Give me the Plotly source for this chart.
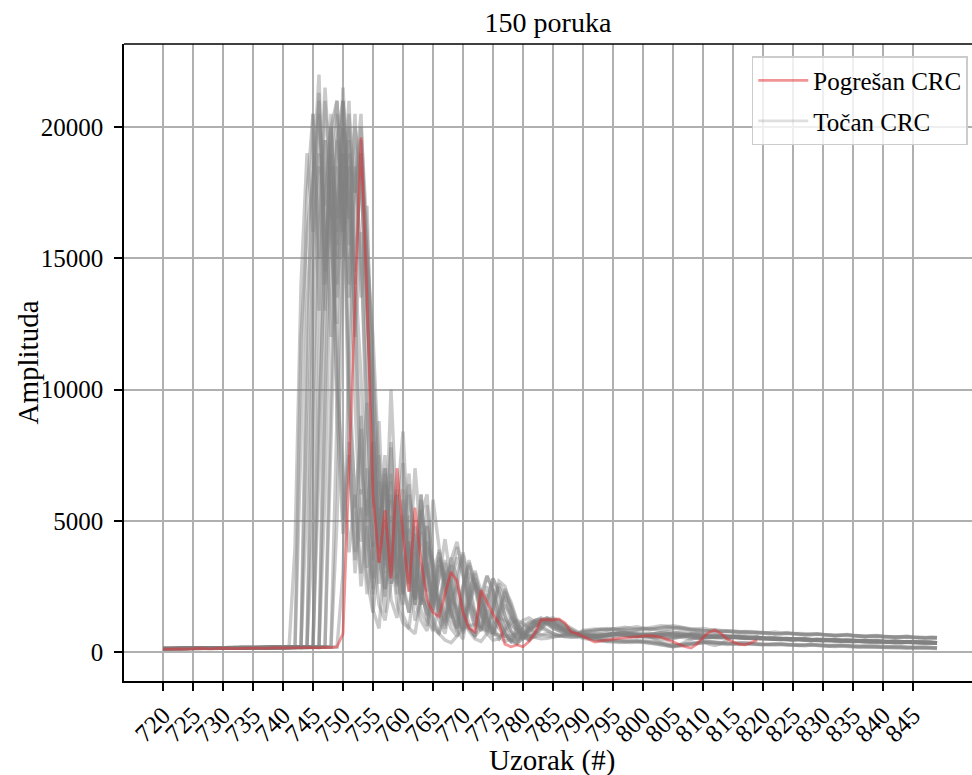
import plotly.graph_objects as go

# ---------------- data ----------------
X_START = 720
x_ticks = list(range(720, 850, 5))
y_ticks = [0, 5000, 10000, 15000, 20000]

# erroneous-CRC message (red), visible from 720 to 819
red_vals = [110,120,130,120,110,130,140,130,120,140,150,140,130,140,150,160,150,140,160,170,160,150,160,170,180,170,160,180,170,200,
            700,7000,13000,19600,13500,6000,3400,5400,2800,7000,
            4500,2300,5500,3500,2000,1500,1350,2200,3050,2700,
            1500,900,760,2360,1900,1450,1100,300,200,270,
            200,400,720,1220,1230,1220,1260,1100,760,700,
            600,500,380,420,460,500,520,540,560,580,
            600,620,600,560,480,380,280,200,150,300,
            550,750,840,700,500,380,300,270,350,450]

# correct-CRC messages (gray), a representative set
g01 = [120,130,140,130,120,140,150,140,130,150,160,150,140,150,160,170,160,150,170,180,170,160,
       4000,14000,19000,16000,21300,15000,18500,9000,4500,7500,
       3000,5500,2200,4200,1800,1200,2600,3000,1400,900,
       700,2100,1800,1300,700,450,350,600,900,1000,
       1050,950,800,700,650,600,620,700,650,600,
       580,640,700,650,600,580,560,600,
       620,640,600,580,620,650,680,640,600,620,660,700,680,640,600,580,620,660,700,720,
       680,650,620,600,580,560,600,620,580,560,540,520,560,540,500,480,520,500,480,460,
       500,480,450,430,470,450,420,400,440,420,400,380,420,400,380,360,400,380,360,350]
g02 = [140,130,120,130,150,140,130,140,160,150,140,150,170,160,150,160,170,180,170,160,170,180,190,
       8000,17500,20500,13000,19500,16000,12000,5000,8000,3500,
       6200,2800,1500,3600,2400,4200,1800,1100,900,2800,
       2200,1500,900,700,1400,2000,1700,1200,800,500,
       400,700,1100,1300,1200,1000,850,700,600,550,
       500,520,560,600,650,700,680,
       650,620,600,640,680,700,660,620,600,640,680,600,480,350,250,200,260,380,480,540,
       560,620,660,640,600,560,540,520,500,520,540,500,480,460,480,500,470,440,420,450,
       470,440,420,400,420,440,410,390,370,400,420,390,370,350,380,400,370,350,330,340]
g03 = [110,120,130,140,130,120,130,150,140,130,150,160,150,140,160,170,160,150,170,160,180,170,160,
       12000,16000,18000,22000,14000,17000,10000,7000,3800,6000,
       2500,4800,1600,900,3800,2900,5000,2400,1500,3300,
       2600,1200,800,1800,2900,3300,2100,1300,900,600,
       1500,2200,1700,1100,700,450,350,500,800,1000,
       1100,1050,900,800,700,620,600,
       520,480,440,420,400,380,360,380,400,420,380,340,300,260,220,200,230,270,310,340,
       360,380,360,340,320,300,280,300,320,300,280,260,270,290,270,250,230,240,260,240,
       220,200,210,230,210,190,180,200,190,170,160,180,170,150,140,160,150,130,120,130]
g04 = [130,140,130,120,140,150,140,130,150,140,160,150,140,160,170,150,160,170,180,160,170,190,180,170,
       6000,15500,19000,17000,20500,13500,18000,11000,5500,8500,
       3200,6800,2600,4800,2000,1300,3400,4000,2000,1200,
       800,2400,2000,1500,900,600,1300,1900,1500,1000,
       700,450,500,800,1100,1200,1100,900,750,650,
       600,580,620,680,720,700,
       680,650,620,600,640,700,740,720,680,640,600,560,520,480,460,500,560,620,680,700,
       660,620,600,580,600,620,580,540,520,500,480,500,520,490,460,440,460,480,450,430,
       410,430,450,420,400,380,400,410,380,360,380,400,370,350,360,380,350,340,360,340]
g05 = [120,110,130,140,120,130,150,140,130,140,160,150,130,150,170,160,150,160,180,170,160,180,190,180,
       10000,20500,15000,21000,17500,12500,19000,8000,3800,9000,
       4500,2200,5500,3300,8000,3000,1800,4200,2800,1600,
       1000,2600,3300,2600,1500,800,500,1800,2600,2100,
       1400,900,600,400,500,900,1200,1300,1150,1000,
       850,700,650,600,580,560,
       760,800,840,880,860,820,860,900,940,960,920,880,900,940,980,1000,960,900,860,880,
       900,860,820,800,780,760,740,760,780,760,740,720,700,720,740,700,680,660,680,700,
       670,650,630,650,670,640,620,600,620,630,600,580,560,580,600,570,550,540,560,550]
g06 = [140,130,140,150,130,140,160,150,140,150,160,170,150,160,170,160,150,170,180,170,160,170,190,180,170,
       5000,16500,21500,18000,14000,20000,15500,9500,4200,7000,
       2800,5200,2100,3800,6200,2600,1500,3800,3200,1800,
       1100,700,2200,3600,2800,1600,900,600,1700,2500,
       2000,1200,700,400,300,600,900,1100,1200,1100,
       1000,900,800,700,650,
       620,600,580,620,660,700,680,640,600,580,620,660,700,740,780,760,720,680,640,600,
       400,300,250,320,450,600,600,560,540,520,540,560,520,500,480,460,490,510,480,460,
       440,460,480,450,430,410,430,450,420,400,380,400,420,390,370,360,380,400,370,350]
g07 = [130,120,130,140,150,140,130,150,160,140,150,160,170,150,160,170,180,160,170,180,170,160,180,190,180,
       9000,18500,13000,20000,21000,16000,19500,12500,6000,9500,
       4000,7500,3500,10000,4800,2200,6000,4500,2400,1400,
       3000,3800,2400,1200,800,1600,3000,2600,1700,1000,
       600,1200,1800,1400,900,600,500,700,1000,1200,
       1250,1150,1000,850,700,
       650,600,560,600,640,680,720,760,720,680,640,600,620,660,700,680,640,600,560,520,
       500,540,580,620,600,580,560,540,560,580,540,520,500,480,500,520,490,460,440,460,
       480,450,430,410,430,450,420,400,380,400,420,390,370,350,370,390,360,350,340,330]
g08 = [120,130,140,130,140,150,140,130,150,160,150,140,160,170,160,150,160,170,180,170,160,180,190,180,170,190,
       7000,17000,20000,15500,21500,17000,14500,10500,5000,8000,
       3500,6500,2800,5500,8400,3800,2000,5200,6000,3000,
       1800,1200,3500,4200,3000,1800,1000,2200,2900,2300,
       1500,900,500,350,700,1000,1150,1200,1100,950,
       850,750,700,650,
       560,520,480,450,430,420,400,380,360,380,400,420,380,340,300,260,240,260,300,340,
       380,400,380,360,340,320,340,360,340,320,300,280,300,320,300,280,260,270,290,270,
       250,230,240,260,240,220,210,220,230,210,190,200,210,190,170,160,170,180,160,150]
g09 = [140,130,120,140,150,130,140,160,150,140,150,170,160,150,160,170,180,170,160,170,180,190,170,180,190,180,
       11000,19500,16500,20500,15000,18500,12000,16000,7000,4000,
       6500,3000,5800,2500,4500,6800,3500,1800,4200,3500,
       2000,1100,2800,4000,3200,2000,1200,800,1900,2800,
       2300,1400,800,500,600,900,1200,1300,1200,1100,
       1000,850,750,650,
       600,580,560,600,650,700,740,720,680,640,600,560,600,640,680,720,760,740,700,660,
       620,580,560,540,520,540,560,540,520,500,520,540,510,490,470,490,510,480,460,440,
       460,480,450,430,410,430,450,420,400,380,400,380,360,380,400,370,350,360,350,330]
g10 = [130,140,130,120,140,150,140,160,150,140,150,160,170,160,150,170,160,180,170,160,180,190,170,180,190,180,170,
       6000,16000,19500,17500,21000,14000,19000,11000,5500,8800,
       3600,6800,2600,5800,3000,7000,4200,2300,5800,4000,
       2200,1300,2600,3800,2700,1500,900,2000,2800,2200,
       1400,800,500,700,1000,1200,1250,1150,1000,900,
       800,700,650,
       800,780,760,800,840,880,860,820,800,840,880,920,960,1000,980,940,900,860,840,820,
       800,780,760,780,800,780,760,740,720,740,720,700,680,700,720,690,670,650,670,690,
       660,640,620,640,660,630,610,590,610,620,590,570,560,580,590,560,550,540,550,540]
g11 = [120,130,140,150,140,130,140,150,160,150,140,160,170,160,150,160,170,180,170,160,170,190,180,170,180,190,200,
       9500,18000,15000,21000,16500,20500,13500,17000,8500,4500,
       7500,3200,6000,2800,5200,3300,6000,2400,1500,3500,
       3000,1800,1000,2500,3500,2600,1500,900,1800,2700,
       2500,1600,900,600,800,1000,1150,1200,1100,950,
       850,750,680,
       640,600,560,520,560,600,640,680,720,700,660,620,580,540,520,560,600,640,680,660,
       620,580,560,540,560,580,600,580,560,540,520,500,480,500,520,500,480,460,440,460,
       480,450,430,410,430,450,430,410,390,410,390,370,350,370,390,370,350,340,360,340]
g12 = [140,130,140,120,130,150,140,150,160,140,150,160,170,150,160,170,160,180,170,160,180,170,190,180,170,190,180,200,
       8000,17000,21000,15500,20000,18000,13000,9000,4200,7000,
       3000,5600,2500,4700,2000,6000,3500,1800,3600,2800,
       1600,900,2300,3400,2600,1500,800,1600,2600,2200,
       1400,800,500,700,1000,1200,1300,1200,1050,900,
       780,700,
       660,640,620,600,620,660,700,660,620,580,560,600,640,680,720,700,660,620,580,560,
       540,560,580,600,580,560,540,520,540,560,520,500,480,500,480,460,480,500,470,450,
       430,450,470,440,420,400,420,440,410,390,380,400,380,360,380,370,350,360,370,350]
g13 = [130,120,140,130,140,150,130,150,160,150,140,160,150,170,160,150,170,180,160,170,180,170,190,180,170,190,200,180,190,
       5000,15000,19000,17500,20000,16000,11000,6000,3500,7800,
       3200,6200,2600,4800,2000,5600,3000,1600,3400,2600,
       1500,800,2200,3100,2300,1300,700,1500,2300,1800,
       1100,600,450,700,1000,1250,1300,1200,1000,850,
       750,
       600,540,480,440,420,440,460,440,420,400,380,360,320,280,240,220,260,300,340,380,
       400,380,360,340,320,340,360,340,320,300,280,300,320,300,280,260,250,270,290,270,
       250,240,260,270,250,230,220,230,240,220,200,210,220,200,180,170,180,190,170,160]
g14 = [120,130,120,140,130,150,140,130,150,160,140,150,160,170,150,160,170,160,180,170,160,180,190,170,180,190,180,200,190,180,
       3000,11000,17000,19000,15000,12000,7000,3800,6500,2800,
       5200,2300,4500,1900,4800,2700,1500,3000,2400,1400,
       800,2000,2800,2200,1300,700,1400,2100,1700,1000,
       600,450,600,900,1150,1250,1200,1050,900,780,
       720,680,640,600,620,660,700,740,700,660,620,580,560,600,640,680,700,680,640,600,
       580,560,540,560,580,600,580,560,540,520,500,520,540,510,490,470,490,510,480,460,
       440,460,480,450,430,410,430,450,420,400,380,400,420,390,370,360,380,390,370,350]
g15 = [130,120,140,150,130,140,150,130,140,160,150,140,150,170,160,150,170,160,170,180,160,180,190,170,
       13000,18000,21000,14500,19000,16500,20000,9500,6000,3000,
       5800,2400,4000,1500,5200,3800,2300,3000,1200,2000,
       3400,2000,1200,700,2000,2500,1800,1100,600,900,
       1600,1300,900,600,400,700,1000,1150,1100,900,
       800,700,620,600,640,680,
       820,860,880,860,840,880,920,940,900,880,860,840,880,920,940,920,880,860,840,820,
       800,820,840,820,800,780,760,780,760,740,720,740,760,730,710,690,710,700,680,660,
       680,660,640,620,640,620,600,610,590,570,590,580,560,550,570,560,540,530,550,540]
g16 = [120,140,130,150,140,130,150,140,160,150,140,160,150,170,160,150,170,160,180,170,160,180,170,190,180,
       14000,20500,17500,12000,19500,21000,16500,13000,7000,5200,
       8000,3400,6400,2600,4800,7200,3200,2000,4600,3000,
       1600,2800,3500,2200,1300,700,1800,2600,2000,1200,
       800,500,900,1300,1100,800,600,700,900,1100,
       1150,1050,900,760,680,
       640,660,700,680,640,600,620,660,700,740,720,680,640,600,560,540,560,600,640,620,
       600,580,560,580,600,580,560,540,520,540,520,500,480,500,520,490,470,450,470,490,
       460,440,420,440,460,430,410,390,410,420,390,370,380,400,380,360,350,370,360,340]
g17 = [140,130,140,120,130,150,140,130,150,160,140,150,160,150,170,160,150,170,180,160,170,180,170,190,180,170,
       9000,15000,19000,21000,17000,14000,18500,15000,9000,3500,
       5500,2400,4200,6000,2800,4000,1800,2600,4800,2500,
       1500,900,2000,3000,3700,2400,1400,800,1400,2400,
       1800,1100,700,450,600,900,1000,1100,1150,1050,
       950,850,720,640,
       580,560,520,480,460,440,420,400,420,440,420,380,340,300,280,260,280,300,320,340,
       360,340,320,300,280,300,320,300,280,260,270,290,300,280,260,250,240,260,270,250,
       230,220,240,250,230,210,200,220,210,190,180,190,200,180,170,160,170,180,160,150]
g18 = [130,140,150,130,140,150,140,160,150,140,160,170,150,160,170,160,150,170,180,170,160,180,190,170,180,190,180,
       12500,20000,16000,19000,13500,18000,20500,14000,6500,3800,
       7000,4000,2200,5000,3800,2000,5400,3200,1900,2800,
       4300,2700,1500,900,2400,3000,2000,1100,700,1500,
       2400,1900,1200,700,500,800,1100,1250,1200,1000,
       850,720,650,
       620,600,640,680,720,700,660,620,580,600,640,680,700,680,640,600,560,520,500,540,
       580,600,620,600,580,560,540,520,540,560,520,500,480,500,520,500,470,450,470,490,
       460,440,420,440,460,430,410,390,410,430,400,380,360,380,370,350,370,360,340,350]
g19 = [120,130,140,150,130,140,160,150,140,150,160,140,150,170,160,150,160,170,180,170,160,180,170,190,180,170,190,180,
       10000,18500,16000,20500,17500,19500,15000,10000,5500,3200,
       6000,2800,4400,6400,3000,1800,4000,3300,1600,1000,
       2600,3600,2900,1700,900,1900,2900,2400,1300,700,
       400,600,900,1100,1200,1250,1100,900,800,720,
       680,650,
       740,780,820,860,900,880,840,800,820,860,900,880,840,820,860,900,940,920,880,840,
       820,800,780,760,780,800,780,760,740,720,740,720,700,680,700,720,690,670,650,670,
       650,630,610,630,650,620,600,590,600,610,580,570,550,560,580,560,540,530,540,530]
g20 = [140,130,120,140,150,140,130,150,160,150,140,160,170,150,160,170,160,150,170,180,170,160,180,190,170,180,190,180,200,
       9000,17000,20000,14500,18500,13000,8500,4000,6800,2600,
       5000,2200,4200,1800,5800,3200,1700,3900,2800,1500,
       900,2500,3300,2400,1400,800,1700,2500,1900,1200,
       700,500,800,1050,1200,1300,1150,950,800,700,
       640,
       610,590,620,650,690,710,680,640,600,580,610,650,690,730,710,670,630,590,550,520,
       540,570,600,620,590,560,530,520,540,560,520,500,490,510,500,480,460,440,460,480,
       450,430,450,470,440,420,400,410,420,400,380,390,410,380,360,350,360,370,350,340]

gray_series = [g01, g02, g03, g04, g05, g06, g07, g08, g09, g10,
               g11, g12, g13, g14, g15, g16, g17, g18, g19, g20]

TITLE = "150 poruka"
X_LABEL = "Uzorak (#)"
Y_LABEL = "Amplituda"
RED_NAME = "Pogrešan CRC"
GRAY_NAME = "Točan CRC"

# ---------------- figure ----------------
FONT = "Liberation Serif, Times New Roman, serif"
fig = go.Figure()

for i, s in enumerate(gray_series):
    fig.add_trace(go.Scatter(
        x=list(range(X_START, X_START + len(s))), y=s, mode="lines",
        line=dict(color="rgba(128,128,128,0.42)", width=3.4),
        name=GRAY_NAME, legendgroup="g", showlegend=False, hoverinfo="skip"))

fig.add_trace(go.Scatter(
    x=list(range(X_START, X_START + len(red_vals))), y=red_vals, mode="lines",
    line=dict(color="rgba(230,40,45,0.5)", width=2.8),
    name=RED_NAME, legendgroup="r", showlegend=True, hoverinfo="skip"))

# legend-only entry for the gray group (light, like the reference legend)
fig.add_trace(go.Scatter(
    x=[None], y=[None], mode="lines",
    line=dict(color="rgba(128,128,128,0.25)", width=2.8),
    name=GRAY_NAME, legendgroup="g", showlegend=True, hoverinfo="skip"))

axis_common = dict(
    showline=True, linecolor="black", linewidth=1.7,
    ticks="outside", ticklen=8, tickwidth=1.7, tickcolor="black",
    showgrid=True, gridcolor="#b0b0b0", gridwidth=1.5,
    zeroline=False, automargin=False,
    tickfont=dict(family=FONT, size=25, color="black"),
)

fig.update_layout(
    width=972, height=775,
    paper_bgcolor="white", plot_bgcolor="white",
    margin=dict(l=124, r=0, t=44, b=94, autoexpand=False),
    font=dict(family=FONT, color="black"),
    title=dict(text=TITLE, x=0.5, xref="paper", xanchor="center",
               y=1 - 22 / 775, yref="container", yanchor="middle",
               font=dict(family=FONT, size=28, color="black")),
    xaxis=dict(axis_common, range=[713.5, 854.83],
               tickvals=x_ticks, ticktext=[str(v) for v in x_ticks], tickangle=-45),
    yaxis=dict(axis_common, range=[-1105, 23162],
               tickvals=y_ticks, ticktext=[str(v) for v in y_ticks],
               ticklabelstandoff=6),
    legend=dict(x=0.995, y=0.981, xanchor="right", yanchor="top",
                bgcolor="rgba(255,255,255,0.8)", bordercolor="#cccccc", borderwidth=1.5,
                font=dict(family=FONT, size=25, color="black"),
                traceorder="grouped", tracegroupgap=5, itemwidth=50),
    showlegend=True,
)

# axis titles
fig.add_annotation(text=X_LABEL, xref="paper", yref="paper",
                   x=(552 - 124) / 848, y=-(760 - 681) / 637,
                   xanchor="center", yanchor="middle", showarrow=False,
                   font=dict(family=FONT, size=29, color="black"))
fig.add_annotation(text=Y_LABEL, xref="paper", yref="paper",
                   x=-(124 - 27) / 848, y=0.5, textangle=-90,
                   xanchor="center", yanchor="middle", showarrow=False,
                   font=dict(family=FONT, size=29, color="black"))

# top spine
fig.add_shape(type="line", xref="paper", yref="paper", x0=0, x1=1, y0=1, y1=1,
              line=dict(color="black", width=1.7))

fig.write_html("out.html", config={"displayModeBar": False})

# remove the default page margin so the figure sits at the window's top-left corner
with open("out.html", "r", encoding="utf-8") as fh:
    page = fh.read()
page = page.replace("<head>", "<head><style>html,body{margin:0;padding:0;overflow:hidden;}</style>", 1)
with open("out.html", "w", encoding="utf-8") as fh:
    fh.write(page)
